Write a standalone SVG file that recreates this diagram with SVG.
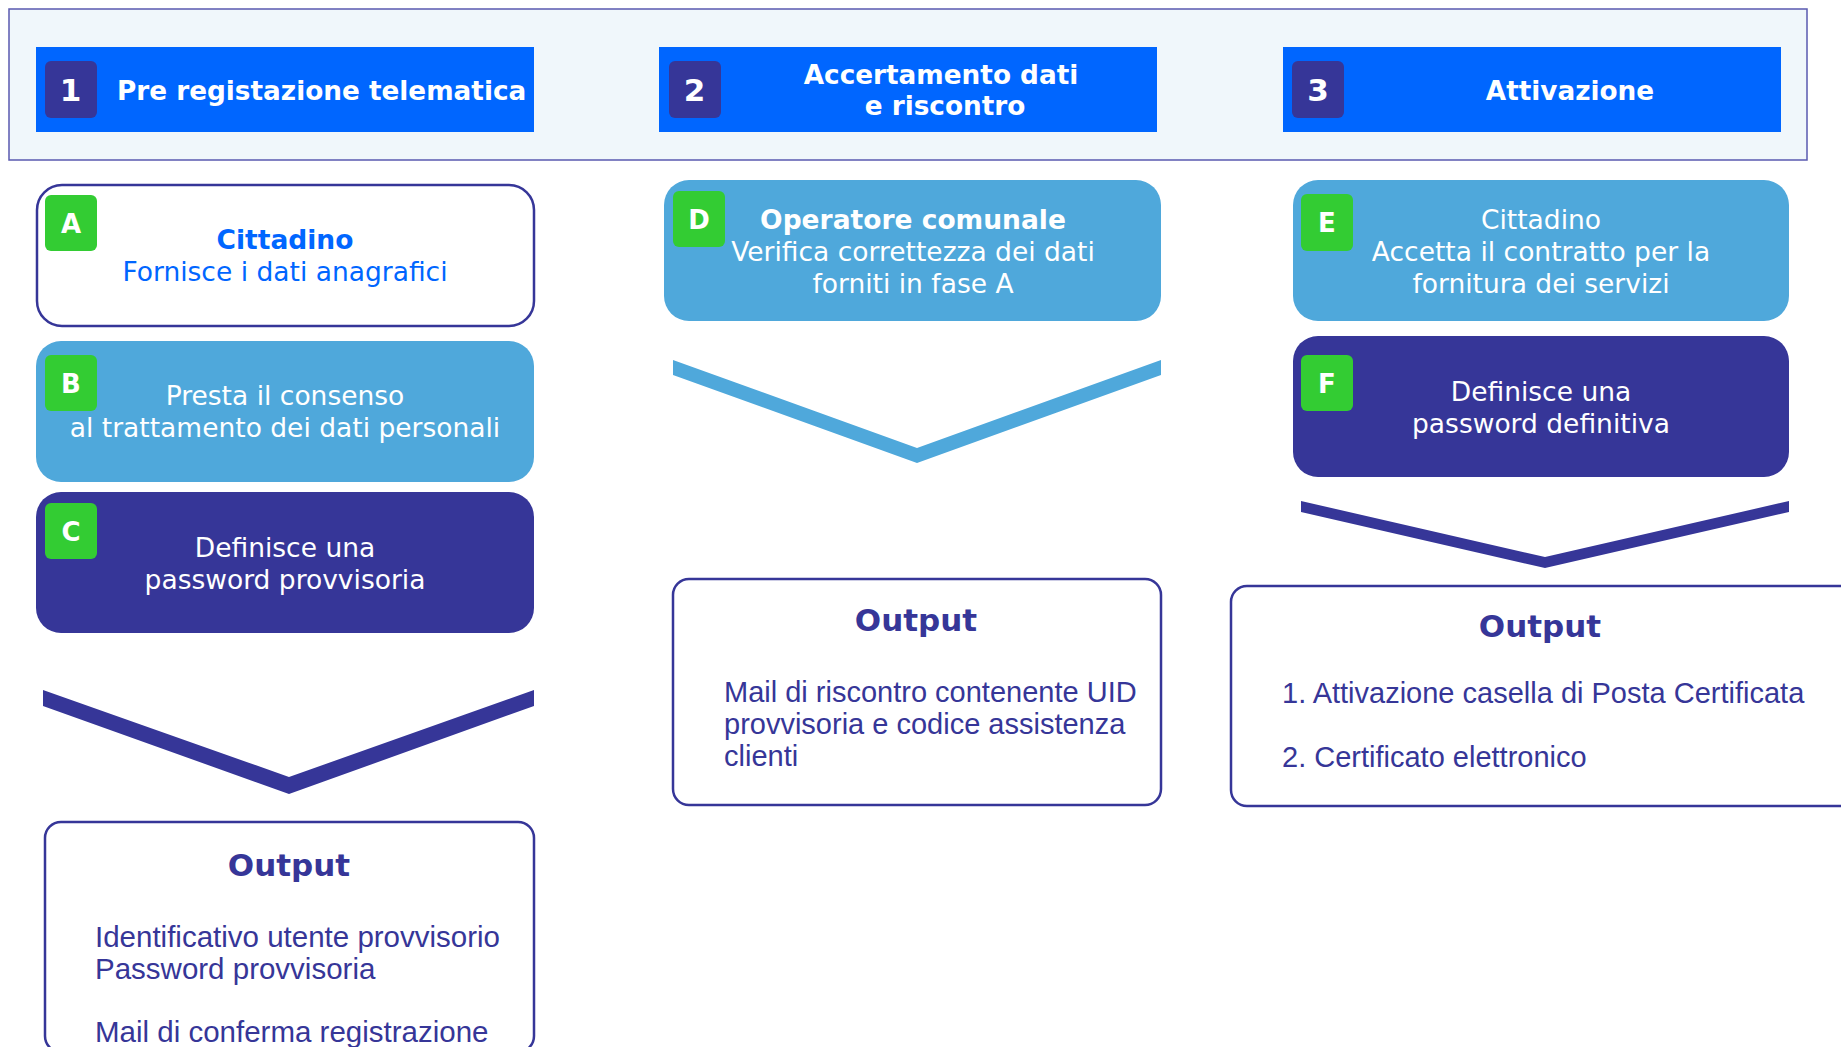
<svg xmlns="http://www.w3.org/2000/svg" width="1841" height="1047" viewBox="0 0 1841 1047">
<style>
.band{fill:#f0f7fb;stroke:#5a5ab0;stroke-width:1.5}
.hdr{fill:#0066ff}
.num{fill:#363698}
.digit{font-family:"DejaVu Sans",sans-serif;font-weight:bold;font-size:31px;fill:#fff;text-anchor:middle}
.ht{font-family:"DejaVu Sans",sans-serif;font-weight:bold;font-size:26.3px;fill:#fff}
.mid{text-anchor:middle}
.white{fill:#fff;stroke:#363698;stroke-width:2.5}
.light{fill:#4fa8db}
.dark{fill:#363698}
.green{fill:#33cc33}
.gl{font-family:"DejaVu Sans",sans-serif;font-weight:bold;font-size:26px;fill:#fff;text-anchor:middle}
.nt{font-family:"DejaVu Sans",sans-serif;font-size:26.5px;text-anchor:middle;fill:#fff}
.b{font-weight:bold}
.blue{fill:#0066ff}
.out{fill:#fff;stroke:#363698;stroke-width:2.5}
.outh{font-family:"DejaVu Sans",sans-serif;font-weight:bold;font-size:31px;fill:#363698;text-anchor:middle}
.outb{font-family:"Liberation Sans",Arial,sans-serif;font-size:29px;fill:#363698}
</style>
<rect width="1841" height="1047" fill="#fff"/>
<g id="header">
<rect class="band" x="9" y="9" width="1798" height="151"/>
</g>
<g id="phase1">
<rect class="hdr" x="36" y="47" width="498" height="85"/>
<rect class="num" x="45" y="61" width="52" height="57" rx="6"/>
<text class="digit" x="70.5" y="101">1</text>
<text class="ht" x="117" y="100">Pre registazione telematica</text>
</g>
<g id="phase2">
<rect class="hdr" x="659" y="47" width="498" height="85"/>
<rect class="num" x="669" y="61" width="52" height="57" rx="6"/>
<text class="digit" x="694.5" y="101">2</text>
<text class="ht mid" x="941" y="84">Accertamento dati</text>
<text class="ht mid" x="945" y="115">e riscontro</text>
</g>
<g id="phase3">
<rect class="hdr" x="1283" y="47" width="498" height="85"/>
<rect class="num" x="1292" y="61" width="52" height="57" rx="6"/>
<text class="digit" x="1318" y="101">3</text>
<text class="ht mid" x="1570" y="100">Attivazione</text>
</g>
<g id="nodeA">
<rect class="white" x="37" y="185" width="497" height="141" rx="25"/>
<rect class="green" x="45" y="195" width="52" height="56" rx="6"/>
<text class="gl" x="71" y="233">A</text>
<text class="nt b blue" x="285" y="249">Cittadino</text>
<text class="nt blue" x="285" y="281">Fornisce i dati anagrafici</text>
</g>
<g id="nodeB">
<rect class="light" x="36" y="341" width="498" height="141" rx="25"/>
<rect class="green" x="45" y="355" width="52" height="56" rx="6"/>
<text class="gl" x="71" y="393">B</text>
<text class="nt" x="285" y="405">Presta il consenso</text>
<text class="nt" x="285" y="437">al trattamento dei dati personali</text>
</g>
<g id="nodeC">
<rect class="dark" x="36" y="492" width="498" height="141" rx="25"/>
<rect class="green" x="45" y="503" width="52" height="56" rx="6"/>
<text class="gl" x="71" y="541">C</text>
<text class="nt" x="285" y="557">Definisce una</text>
<text class="nt" x="285" y="589">password provvisoria</text>
</g>
<g id="nodeD">
<rect class="light" x="664" y="180" width="497" height="141" rx="25"/>
<rect class="green" x="673" y="191" width="52" height="56" rx="6"/>
<text class="gl" x="699" y="229">D</text>
<text class="nt b" x="913" y="229">Operatore comunale</text>
<text class="nt" x="913" y="261">Verifica correttezza dei dati</text>
<text class="nt" x="913" y="293">forniti in fase A</text>
</g>
<g id="nodeE">
<rect class="light" x="1293" y="180" width="496" height="141" rx="25"/>
<rect class="green" x="1301" y="194" width="52" height="57" rx="6"/>
<text class="gl" x="1327" y="232">E</text>
<text class="nt" x="1541" y="229">Cittadino</text>
<text class="nt" x="1541" y="261">Accetta il contratto per la</text>
<text class="nt" x="1541" y="293">fornitura dei servizi</text>
</g>
<g id="nodeF">
<rect class="dark" x="1293" y="336" width="496" height="141" rx="25"/>
<rect class="green" x="1301" y="355" width="52" height="56" rx="6"/>
<text class="gl" x="1327" y="393">F</text>
<text class="nt" x="1541" y="401">Definisce una</text>
<text class="nt" x="1541" y="433">password definitiva</text>
</g>
<g id="connectors">
<polygon fill="#363698" points="43,690 289,777 534,690 534,706 289,794 43,706"/>
<polygon fill="#4fa8db" points="673,360 917,448 1161,360 1161,375 917,463 673,375"/>
<polygon fill="#363698" points="1301,501 1545,557 1789,501 1789,512 1545,568 1301,512"/>
</g>
<g id="output1">
<rect class="out" x="45" y="822" width="489" height="230" rx="16"/>
<text class="outh" x="289" y="876">Output</text>
<text class="outb" x="95" y="947" style="font-size:29.5px">Identificativo utente provvisorio</text>
<text class="outb" x="95" y="979" style="font-size:29.5px">Password provvisoria</text>
<text class="outb" x="95" y="1042" style="font-size:29.5px">Mail di conferma registrazione</text>
</g>
<g id="output2">
<rect class="out" x="673" y="579" width="488" height="226" rx="16"/>
<text class="outh" x="916" y="631">Output</text>
<text class="outb" x="724" y="702">Mail di riscontro contenente UID</text>
<text class="outb" x="724" y="734">provvisoria e codice assistenza</text>
<text class="outb" x="724" y="766">clienti</text>
</g>
<g id="output3">
<rect class="out" x="1231" y="586" width="640" height="220" rx="16"/>
<text class="outh" x="1540" y="637">Output</text>
<text class="outb" x="1282" y="703">1. Attivazione casella di Posta Certificata</text>
<text class="outb" x="1282" y="767">2. Certificato elettronico</text>
</g>
</svg>
